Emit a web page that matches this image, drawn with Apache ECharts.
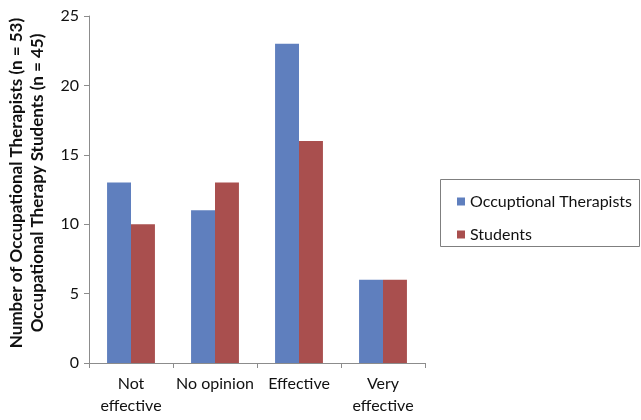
<!DOCTYPE html>
<html>
<head>
<meta charset="utf-8">
<script src="https://cdn.jsdelivr.net/npm/echarts@6/dist/echarts.min.js"></script>
<style>
  html, body { margin: 0; padding: 0; background: #fff; }
  #chart { width: 641px; height: 420px; }
</style>
</head>
<body>
<div id="chart"></div>
<script>
// Perceived effectiveness ratings, counts per response category
const categories = ['Not\neffective', 'No opinion', 'Effective', 'Very\neffective'];
const therapists = [13, 11, 23, 6];
const students = [10, 13, 16, 6];
const seriesNames = ['Occuptional Therapists', 'Students'];
const yTicks = { min: 0, max: 25, interval: 5 };

const FONT = 'Lato, "Open Sans", sans-serif';
const chart = echarts.init(document.getElementById('chart'), null, { renderer: 'canvas' });

chart.setOption({
  animation: false,
  backgroundColor: '#ffffff',
  grid: { left: 89, top: 16, right: 216, bottom: 57, containLabel: false },
  xAxis: {
    type: 'category',
    data: categories,
    axisLine: { show: true, lineStyle: { color: '#8c8c8c', width: 1 } },
    axisTick: { show: true, alignWithLabel: false, length: 5, lineStyle: { color: '#8c8c8c' } },
    axisLabel: { color: '#111', fontFamily: FONT, fontSize: 16, lineHeight: 22, margin: 10, interval: 0 },
    splitLine: { show: false }
  },
  yAxis: {
    type: 'value',
    min: yTicks.min,
    max: yTicks.max,
    interval: yTicks.interval,
    axisLine: { show: true, lineStyle: { color: '#8c8c8c', width: 1 } },
    axisTick: { show: true, length: 5, lineStyle: { color: '#8c8c8c' } },
    axisLabel: { color: '#111', fontFamily: FONT, fontSize: 16, margin: 10 },
    splitLine: { show: false }
  },
  legend: {
    orient: 'vertical',
    left: 452,
    top: 187,
    itemWidth: 8,
    itemHeight: 8,
    itemGap: 14,
    icon: 'rect',
    textStyle: { color: '#111', fontFamily: FONT, fontSize: 16, lineHeight: 19 },
    data: seriesNames
  },
  graphic: [
    {
      type: 'rect',
      shape: { x: 440.5, y: 179.5, width: 199, height: 67 },
      style: { fill: 'none', stroke: '#7f7f7f', lineWidth: 1 },
      silent: true
    },
    {
      type: 'text',
      x: 27,
      y: 183,
      rotation: Math.PI / 2,
      style: {
        text: 'Number of Occupational Therapists (n = 53)\nOccupational Therapy Students (n = 45)',
        fontFamily: FONT,
        fontSize: 17,
        fontWeight: 'bold',
        lineHeight: 21,
        fill: '#111',
        align: 'center',
        verticalAlign: 'middle'
      }
    }
  ],
  series: [
    {
      name: seriesNames[0],
      type: 'bar',
      data: therapists,
      barGap: '0%',
      barCategoryGap: '43%',
      itemStyle: { color: '#5f7fbe' }
    },
    {
      name: seriesNames[1],
      type: 'bar',
      data: students,
      barGap: '0%',
      barCategoryGap: '43%',
      itemStyle: { color: '#a94f4e' }
    }
  ]
});
</script>
</body>
</html>
